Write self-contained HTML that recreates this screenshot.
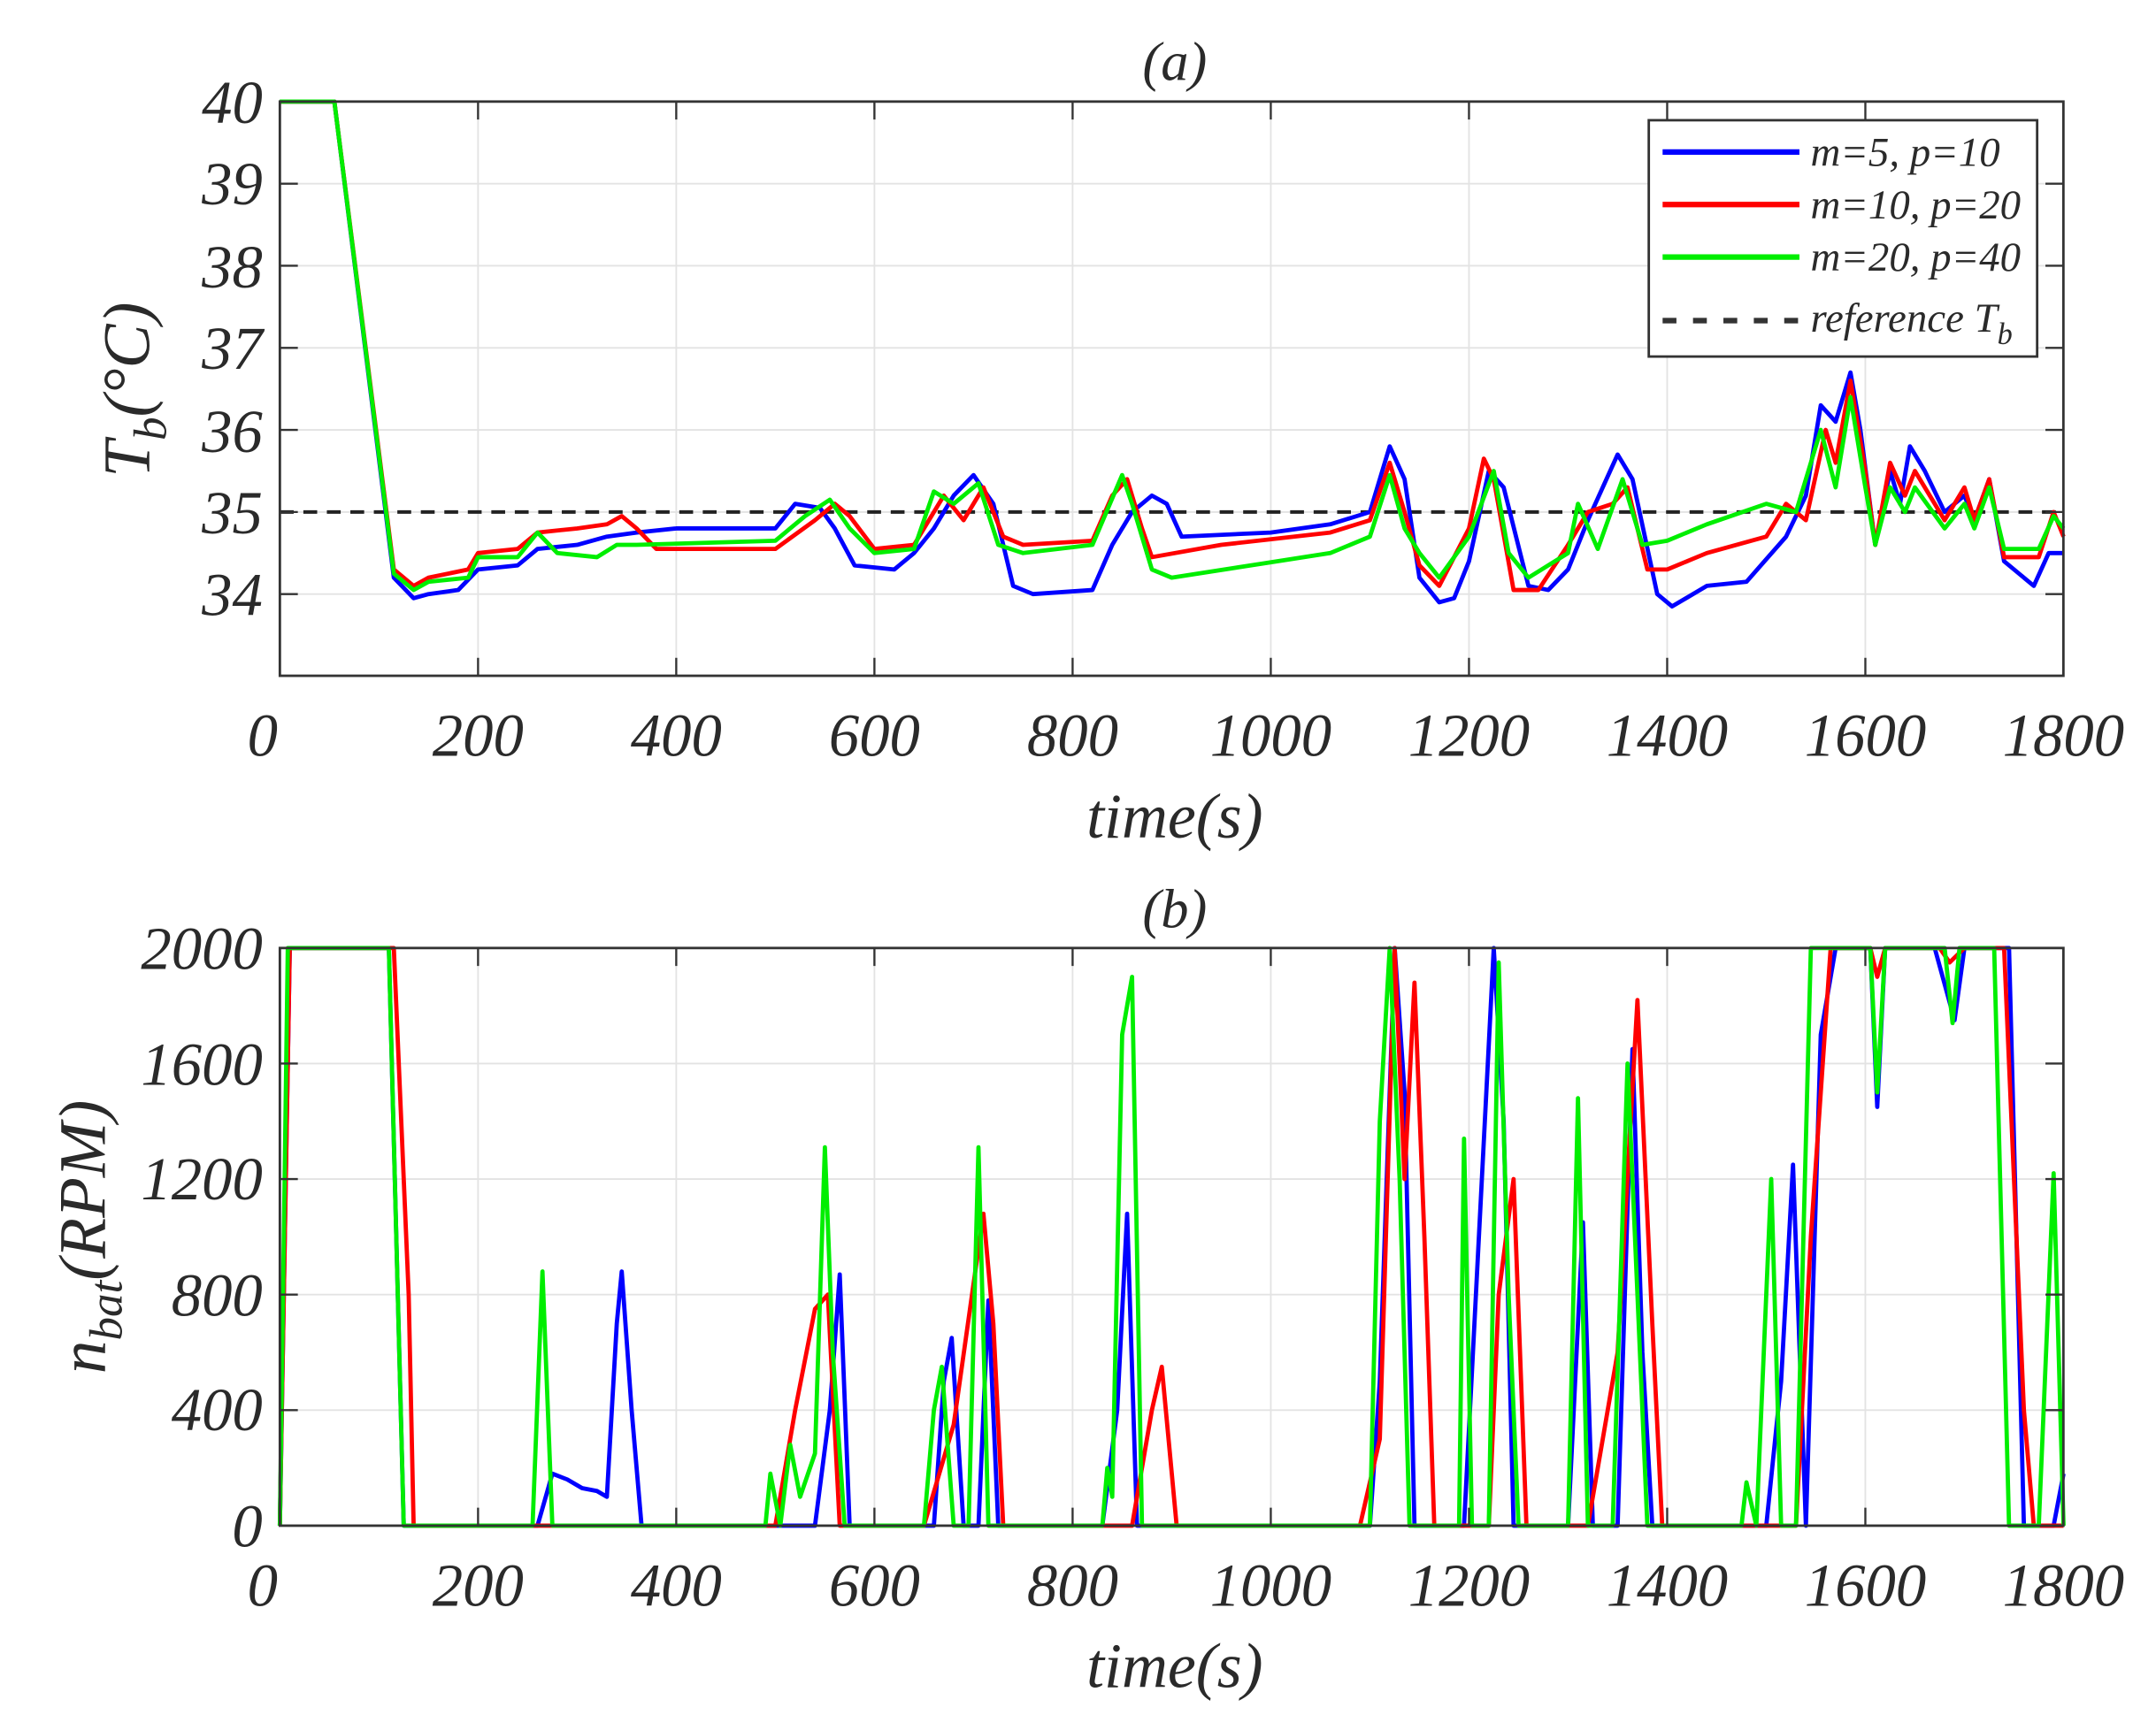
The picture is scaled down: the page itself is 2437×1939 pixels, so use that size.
<!DOCTYPE html>
<html><head><meta charset="utf-8"><style>
html,body{margin:0;padding:0;background:#fff;}
svg{display:block;}
text{font-family:"Liberation Serif",serif;font-style:italic;fill:#2a2a2a;}
</style></head><body>
<svg width="2437" height="1939" viewBox="0 0 1560 1241" preserveAspectRatio="none" xmlns="http://www.w3.org/2000/svg">
<defs>
<clipPath id="ca"><rect x="200" y="71" width="1296" height="420"/></clipPath>
<clipPath id="cb"><rect x="200" y="683" width="1296" height="424"/></clipPath>
</defs>
<rect width="1560" height="1241" fill="#fff"/>
<!-- ===== Plot A ===== -->
<g stroke="#e3e3e3" stroke-width="1.2">
<line x1="345.9" y1="73.5" x2="345.9" y2="489"/><line x1="489.3" y1="73.5" x2="489.3" y2="489"/>
<line x1="632.7" y1="73.5" x2="632.7" y2="489"/><line x1="776.1" y1="73.5" x2="776.1" y2="489"/>
<line x1="919.5" y1="73.5" x2="919.5" y2="489"/><line x1="1062.9" y1="73.5" x2="1062.9" y2="489"/>
<line x1="1206.3" y1="73.5" x2="1206.3" y2="489"/><line x1="1349.7" y1="73.5" x2="1349.7" y2="489"/>
<line x1="202.5" y1="132.9" x2="1493" y2="132.9"/><line x1="202.5" y1="192.3" x2="1493" y2="192.3"/>
<line x1="202.5" y1="251.7" x2="1493" y2="251.7"/><line x1="202.5" y1="311.1" x2="1493" y2="311.1"/>
<line x1="202.5" y1="370.5" x2="1493" y2="370.5"/><line x1="202.5" y1="429.9" x2="1493" y2="429.9"/>
</g>
<g clip-path="url(#ca)">
<line x1="202.5" y1="370.5" x2="1493" y2="370.5" stroke="#222" stroke-width="2.5" stroke-dasharray="10,7"/>
<g transform="matrix(0.717 0 0 -59.4 202.5 2449.5)" fill="none" stroke-width="4.8" stroke-linejoin="round">
<polyline vector-effect="non-scaling-stroke" stroke="#0000ff" points="0,40 55,40 115,34.2 135,33.95 150,34 180,34.05 200,34.3 240,34.35 260,34.55 300,34.6 330,34.7 360,34.75 400,34.8 500,34.8 520,35.1 545,35.05 560,34.8 580,34.35 620,34.3 640,34.5 660,34.8 680,35.2 700,35.45 720,35.1 740,34.1 760,34 820,34.05 840,34.6 860,35 880,35.2 895,35.1 910,34.7 1000,34.75 1060,34.85 1100,35 1120,35.8 1135,35.4 1150,34.2 1170,33.9 1185,33.95 1200,34.4 1220,35.5 1235,35.3 1260,34.1 1280,34.05 1300,34.3 1320,34.9 1350,35.7 1365,35.4 1390,34 1405,33.85 1440,34.1 1480,34.15 1520,34.7 1540,35.2 1555,36.3 1570,36.1 1585,36.7 1595,36 1610,34.6 1625,35.5 1635,35.1 1645,35.8 1660,35.5 1680,35 1700,35.2 1710,34.9 1725,35.4 1740,34.4 1770,34.1 1785,34.5 1800,34.5"/>
<polyline vector-effect="non-scaling-stroke" stroke="#ff0000" points="0,40 55,40 115,34.3 135,34.1 150,34.2 190,34.3 200,34.5 240,34.55 260,34.75 300,34.8 330,34.85 345,34.95 360,34.8 380,34.55 500,34.55 540,34.9 560,35.1 575,34.95 600,34.55 640,34.6 670,35.2 690,34.9 710,35.3 730,34.7 750,34.6 820,34.65 840,35.2 855,35.4 870,34.8 880,34.45 950,34.6 1060,34.75 1100,34.9 1120,35.6 1135,35 1150,34.35 1170,34.1 1200,34.8 1215,35.65 1225,35.4 1245,34.05 1270,34.05 1300,34.6 1320,35 1345,35.1 1360,35.3 1380,34.3 1400,34.3 1440,34.5 1500,34.7 1520,35.1 1540,34.9 1560,36 1570,35.6 1585,36.6 1600,35.5 1610,34.6 1625,35.6 1640,35.2 1650,35.5 1680,34.9 1700,35.3 1710,34.9 1725,35.4 1740,34.45 1775,34.45 1790,35 1800,34.7"/>
<polyline vector-effect="non-scaling-stroke" stroke="#00ee00" points="0,40 55,40 115,34.25 135,34.05 150,34.15 190,34.2 200,34.45 240,34.45 260,34.75 280,34.5 320,34.45 340,34.6 360,34.6 500,34.65 530,34.95 555,35.15 575,34.8 600,34.5 640,34.55 660,35.25 680,35.1 705,35.35 725,34.6 750,34.5 820,34.6 850,35.45 860,35.1 880,34.3 900,34.2 1060,34.5 1100,34.7 1120,35.45 1135,34.8 1150,34.5 1170,34.2 1200,34.7 1225,35.5 1240,34.5 1260,34.2 1300,34.5 1310,35.1 1330,34.55 1355,35.4 1375,34.6 1400,34.65 1440,34.85 1500,35.1 1530,35 1555,36 1570,35.3 1585,36.4 1600,35.3 1610,34.6 1625,35.3 1640,35 1650,35.3 1680,34.8 1700,35.1 1710,34.8 1725,35.3 1740,34.55 1775,34.55 1790,34.95 1800,34.8"/>
</g>
</g>
<rect x="202.5" y="73.5" width="1290.5" height="415.5" fill="none" stroke="#333" stroke-width="1.8"/>
<g stroke="#333" stroke-width="1.5">
<path d="M345.9 489v-13M489.3 489v-13M632.7 489v-13M776.1 489v-13M919.5 489v-13M1062.9 489v-13M1206.3 489v-13M1349.7 489v-13"/>
<path d="M345.9 73.5v13M489.3 73.5v13M632.7 73.5v13M776.1 73.5v13M919.5 73.5v13M1062.9 73.5v13M1206.3 73.5v13M1349.7 73.5v13"/>
<path d="M202.5 132.9h13M202.5 192.3h13M202.5 251.7h13M202.5 311.1h13M202.5 370.5h13M202.5 429.9h13"/>
<path d="M1493 132.9h-13M1493 192.3h-13M1493 251.7h-13M1493 311.1h-13M1493 370.5h-13M1493 429.9h-13"/>
</g>
<g font-size="44" text-anchor="end">
<text x="190" y="89">40</text><text x="190" y="148">39</text><text x="190" y="208">38</text>
<text x="190" y="267">37</text><text x="190" y="327">36</text><text x="190" y="386">35</text><text x="190" y="445">34</text>
</g>
<g font-size="44" text-anchor="middle">
<text x="190" y="547">0</text><text x="345.9" y="547">200</text><text x="489.3" y="547">400</text>
<text x="632.7" y="547">600</text><text x="776.1" y="547">800</text><text x="919.5" y="547">1000</text>
<text x="1062.9" y="547">1200</text><text x="1206.3" y="547">1400</text><text x="1349.7" y="547">1600</text><text x="1493" y="547">1800</text>
</g>
<text x="850" y="606" font-size="46" text-anchor="middle">time(s)</text>
<text x="850" y="58" font-size="40" text-anchor="middle">(a)</text>
<text transform="translate(108,282) rotate(-90)" font-size="48" text-anchor="middle">T<tspan font-size="34" dy="12">b</tspan><tspan dy="-12">(°C)</tspan></text>
<!-- legend -->
<rect x="1193" y="87" width="281" height="171" fill="#fff" stroke="#333" stroke-width="1.8"/>
<g stroke-width="4">
<line x1="1203" y1="110" x2="1302" y2="110" stroke="#0000ff"/>
<line x1="1203" y1="148" x2="1302" y2="148" stroke="#ff0000"/>
<line x1="1203" y1="186" x2="1302" y2="186" stroke="#00ee00"/>
<line x1="1203" y1="232" x2="1302" y2="232" stroke="#333" stroke-dasharray="10,12"/>
</g>
<g font-size="30">
<text x="1310" y="120">m=5, p=10</text>
<text x="1310" y="158">m=10, p=20</text>
<text x="1310" y="196">m=20, p=40</text>
<text x="1310" y="240">reference T<tspan font-size="22" dy="9">b</tspan></text>
</g>
<!-- ===== Plot B ===== -->
<g stroke="#e3e3e3" stroke-width="1.2">
<line x1="345.9" y1="686" x2="345.9" y2="1104"/><line x1="489.3" y1="686" x2="489.3" y2="1104"/>
<line x1="632.7" y1="686" x2="632.7" y2="1104"/><line x1="776.1" y1="686" x2="776.1" y2="1104"/>
<line x1="919.5" y1="686" x2="919.5" y2="1104"/><line x1="1062.9" y1="686" x2="1062.9" y2="1104"/>
<line x1="1206.3" y1="686" x2="1206.3" y2="1104"/><line x1="1349.7" y1="686" x2="1349.7" y2="1104"/>
<line x1="202.5" y1="1020.4" x2="1493" y2="1020.4"/><line x1="202.5" y1="936.8" x2="1493" y2="936.8"/>
<line x1="202.5" y1="853.2" x2="1493" y2="853.2"/><line x1="202.5" y1="769.6" x2="1493" y2="769.6"/>
</g>
<g clip-path="url(#cb)">
<g transform="matrix(0.717 0 0 -0.209 202.5 1104)" fill="none" stroke-width="4.8" stroke-linejoin="round">
<polyline vector-effect="non-scaling-stroke" stroke="#0000ff" points="0,0 10,2000 110,2000 125,0 260,0 275,180 290,160 305,130 320,120 330,100 340,700 345,880 355,400 365,0 540,0 555,400 565,870 575,0 660,0 670,500 678,650 690,0 705,0 715,780 725,0 830,0 845,400 855,1080 865,0 1100,0 1110,500 1125,2000 1135,1500 1145,0 1195,0 1210,1000 1225,2000 1235,1400 1245,0 1300,0 1315,1050 1325,0 1350,0 1365,1650 1375,600 1385,0 1500,0 1515,500 1527,1250 1540,0 1555,1700 1570,2000 1605,2000 1612,1450 1620,2000 1670,2000 1690,1750 1700,2000 1745,2000 1760,0 1790,0 1800,180"/>
<polyline vector-effect="non-scaling-stroke" stroke="#ff0000" points="0,0 10,2000 115,2000 130,800 135,0 500,0 520,400 540,750 553,800 565,0 650,0 680,350 710,1080 720,700 730,0 860,0 880,400 890,550 905,0 1090,0 1110,300 1125,2000 1135,1200 1145,1880 1155,1000 1165,0 1220,0 1230,800 1245,1200 1258,0 1320,0 1350,600 1370,1820 1385,700 1395,0 1530,0 1545,1000 1565,2000 1605,2000 1612,1900 1620,2000 1675,2000 1685,1950 1700,2000 1740,2000 1760,400 1770,0 1800,0"/>
<polyline vector-effect="non-scaling-stroke" stroke="#00ee00" points="0,0 8,2000 110,2000 125,0 255,0 265,880 275,0 490,0 495,180 505,0 515,280 525,100 540,250 550,1310 558,600 570,0 650,0 660,400 668,550 680,0 695,0 705,1310 715,0 830,0 835,200 840,100 850,1700 860,1900 870,0 1100,0 1110,1400 1120,2000 1130,1200 1140,0 1190,0 1195,1340 1203,0 1220,0 1230,1950 1240,800 1250,0 1300,0 1310,1480 1320,0 1345,0 1360,1600 1370,800 1380,0 1475,0 1480,150 1490,0 1505,1200 1515,0 1530,0 1545,2000 1605,2000 1612,1500 1620,2000 1680,2000 1688,1740 1695,2000 1730,2000 1745,0 1775,0 1790,1220 1800,0"/>
</g>
</g>
<rect x="202.5" y="686" width="1290.5" height="418" fill="none" stroke="#333" stroke-width="1.8"/>
<g stroke="#333" stroke-width="1.5">
<path d="M345.9 1104v-13M489.3 1104v-13M632.7 1104v-13M776.1 1104v-13M919.5 1104v-13M1062.9 1104v-13M1206.3 1104v-13M1349.7 1104v-13"/>
<path d="M345.9 686v13M489.3 686v13M632.7 686v13M776.1 686v13M919.5 686v13M1062.9 686v13M1206.3 686v13M1349.7 686v13"/>
<path d="M202.5 1020.4h13M202.5 936.8h13M202.5 853.2h13M202.5 769.6h13"/>
<path d="M1493 1020.4h-13M1493 936.8h-13M1493 853.2h-13M1493 769.6h-13"/>
</g>
<g font-size="44" text-anchor="end">
<text x="190" y="701">2000</text><text x="190" y="785">1600</text><text x="190" y="868">1200</text>
<text x="190" y="952">800</text><text x="190" y="1035">400</text><text x="190" y="1119">0</text>
</g>
<g font-size="44" text-anchor="middle">
<text x="190" y="1162">0</text><text x="345.9" y="1162">200</text><text x="489.3" y="1162">400</text>
<text x="632.7" y="1162">600</text><text x="776.1" y="1162">800</text><text x="919.5" y="1162">1000</text>
<text x="1062.9" y="1162">1200</text><text x="1206.3" y="1162">1400</text><text x="1349.7" y="1162">1600</text><text x="1493" y="1162">1800</text>
</g>
<text x="850" y="1221" font-size="46" text-anchor="middle">time(s)</text>
<text x="850" y="671" font-size="40" text-anchor="middle">(b)</text>
<text transform="translate(76,895) rotate(-90)" font-size="48" text-anchor="middle">n<tspan font-size="34" dy="12">bat</tspan><tspan dy="-12">(RPM)</tspan></text>
</svg>
</body></html>
